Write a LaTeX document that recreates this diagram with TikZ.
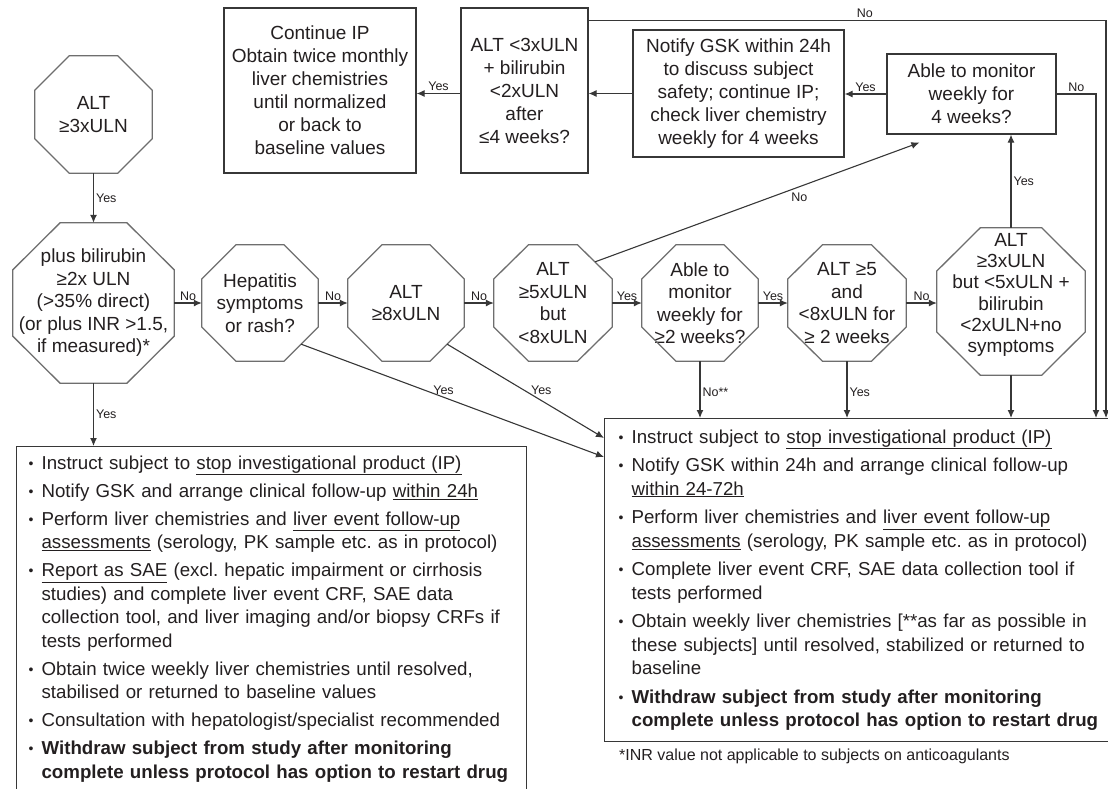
\documentclass[tikz,border=0pt]{standalone}
\usepackage{fontspec}
\setmainfont{Liberation Sans}
\usetikzlibrary{
	positioning,
	arrows.meta,
	calc
}
\definecolor{BoxLine}{RGB}{55,55,55}
\definecolor{OctLine}{RGB}{110,110,110}
\definecolor{InkText}{RGB}{35,31,32}

\newcommand{\itm}{\makebox[13pt][l]{\raisebox{1pt}{\scalebox{0.75}{•}}}}
\newcommand{\ind}{\hspace*{13pt}}
\newcommand{\drawoct}[1]{%
	\draw[octline]
	($(#1.north west)!.293!(#1.north east)$) -- ($(#1.north west)!.707!(#1.north east)$)
	-- ($(#1.north east)!.293!(#1.south east)$) -- ($(#1.north east)!.707!(#1.south east)$)
	-- ($(#1.south west)!.707!(#1.south east)$) -- ($(#1.south west)!.293!(#1.south east)$)
	-- ($(#1.north west)!.707!(#1.south west)$) -- ($(#1.north west)!.293!(#1.south west)$)
	-- cycle;}

\begin{document}
\frenchspacing
\begin{tikzpicture}[
	x=1pt, y=-1pt,
	every node/.style={text=InkText},
	octnode/.style={font=\fontsize{19}{22.5}\selectfont, align=center, inner sep=0pt},
	octline/.style={draw=OctLine, line width=1.3pt, line join=miter},
	decbox/.style={font=\fontsize{19}{23}\selectfont, align=center, draw=BoxLine, line width=1.2pt, inner sep=0pt},
	listbox/.style={draw=BoxLine, line width=1.2pt, align=left, anchor=north west, font=\fontsize{18.7}{23.5}\selectfont},
	arr/.style={draw=BoxLine, line width=1.1pt, -{Latex[length=8pt,width=7pt]}},
	lbl/.style={font=\fontsize{12.5}{14}\selectfont, inner sep=2pt}
	]
	
	\useasboundingbox (0,0) rectangle (1108,789);
	
	% Decision octagons
	\node[octnode, minimum width=117, minimum height=117] (o1) at (93.5,114.5) {ALT\\≥3xULN};
	\node[octnode, minimum width=161, minimum height=160] (o2) at (93.5,303) {plus bilirubin\\≥2x ULN\\(>35\% direct)\\(or plus INR >1.5,\\if measured)*};
	\node[octnode, minimum width=116, minimum height=116] (o3) at (260,303) {Hepatitis\\symptoms\\or rash?};
	\node[octnode, minimum width=116, minimum height=116] (o4) at (406,303) {ALT\\≥8xULN};
	\node[octnode, minimum width=118, minimum height=116] (o5) at (553,303) {ALT\\≥5xULN\\but\\<8xULN};
	\node[octnode, minimum width=116, minimum height=116] (o6) at (700,303) {Able to\\monitor\\weekly for\\≥2 weeks?};
	\node[octnode, minimum width=118, minimum height=116] (o7) at (847,303) {ALT ≥5\\and\\<8xULN for\\≥ 2 weeks};
	\node[octnode, minimum width=148, minimum height=147] (o8) at (1011,301.5) {};
	\node[octnode, font=\fontsize{19}{21.3}\selectfont] (o8txt) at (1011,295) {ALT\\≥3xULN\\but <5xULN +\\bilirubin\\<2xULN+no\\symptoms};
	
	\foreach \n in {o1,o2,o3,o4,o5,o6,o7,o8} {\drawoct{\n}}
	
	% Top row boxes
	\node[decbox, minimum width=192, minimum height=165] (cont) at (320,90.5) {Continue IP\\Obtain twice monthly\\liver chemistries\\until normalized\\or back to\\baseline values};
	\node[decbox, minimum width=127, minimum height=165] (alt3) at (524.5,90.5) {ALT <3xULN\\+ bilirubin\\<2xULN\\after\\≤4 weeks?};
	\node[decbox, minimum width=211, minimum height=127] (gsk) at (738.5,93.5) {Notify GSK within 24h\\to discuss subject\\safety; continue IP;\\check liver chemistry\\weekly for 4 weeks};
	\node[decbox, minimum width=169, minimum height=80] (able) at (971.5,94) {Able to monitor\\weekly for\\4 weeks?};
	
	% Action boxes
	\node[listbox, text width=486, inner xsep=12, inner ysep=9] (lbox) at (16,446) {%
		\itm Instruct subject to \underline{stop investigational product (IP)}\\[4.5pt]
		\itm Notify GSK and arrange clinical follow-up \underline{within 24h}\\[4.5pt]
		\itm Perform liver chemistries and \underline{liver event follow-up}\\
		\ind\underline{assessments} (serology, PK sample etc. as in protocol)\\[4.5pt]
		\itm\underline{Report as SAE} (excl. hepatic impairment or cirrhosis\\
		\ind studies) and complete liver event CRF, SAE data\\
		\ind collection tool, and liver imaging and/or biopsy CRFs if\\
		\ind tests performed\\[4.5pt]
		\itm Obtain twice weekly liver chemistries until resolved,\\
		\ind stabilised or returned to baseline values\\[4.5pt]
		\itm Consultation with hepatologist/specialist recommended\\[4.5pt]
		\itm\textbf{Withdraw subject from study after monitoring}\\
		\ind\textbf{complete unless protocol has option to restart drug}};
	
	\node[listbox, text width=492, inner xsep=14, inner ysep=11] (rbox) at (604,418) {%
		\itm Instruct subject to \underline{stop investigational product (IP)}\\[5pt]
		\itm Notify GSK within 24h and arrange clinical follow-up\\
		\ind\underline{within 24-72h}\\[5pt]
		\itm Perform liver chemistries and \underline{liver event follow-up}\\
		\ind\underline{assessments} (serology, PK sample etc. as in protocol)\\[5pt]
		\itm Complete liver event CRF, SAE data collection tool if\\
		\ind tests performed\\[5pt]
		\itm Obtain weekly liver chemistries [**as far as possible in\\
		\ind these subjects] until resolved, stabilized or returned to\\
		\ind baseline\\[5pt]
		\itm\textbf{Withdraw subject from study after monitoring}\\
		\ind\textbf{complete unless protocol has option to restart drug}};
	
	\node[font=\fontsize{16}{18}\selectfont, anchor=west, inner sep=0pt] (note) at ($(rbox.south west)+(15,14)$) {*INR value not applicable to subjects on anticoagulants};
	
	% Connections along the row
	\draw[arr] (o1) -- node[lbl, right]{Yes} (o2);
	\draw[arr] (o2) -- node[lbl, above]{No} (o3);
	\draw[arr] (o3) -- node[lbl, above]{No} (o4);
	\draw[arr] (o4) -- node[lbl, above]{No} (o5);
	\draw[arr] (o5) -- node[lbl, above]{Yes} (o6);
	\draw[arr] (o6) -- node[lbl, above]{Yes} (o7);
	\draw[arr] (o7) -- node[lbl, above]{No} (o7 -| o8.west);
	
	% Down to the action boxes
	\draw[arr] (o2) -- node[lbl, right]{Yes} (o2 |- lbox.north);
	\draw[arr] (o6) -- node[lbl, right, pos=.55]{No**} (o6 |- rbox.north);
	\draw[arr] (o7) -- node[lbl, right, pos=.55]{Yes} (o7 |- rbox.north);
	\draw[arr] (o8) -- (o8 |- rbox.north);
	
	\coordinate (o3cut) at ($(o3.south east)+(-17,-17)$);
	\coordinate (o4cut) at ($(o4.south east)+(-17,-17)$);
	\coordinate (o5cut) at ($(o5.north east)+(-17,17)$);
	\draw[arr] (o3cut) -- node[lbl, pos=.47, above]{Yes} ($(rbox.north west)+(0,39)$);
	\draw[arr] (o4cut) -- node[lbl, pos=.6, above=3pt]{Yes} ($(rbox.north west)+(0,20)$);
	
	% Up to the weekly monitoring question
	\draw[arr] (o5cut) -- node[lbl, pos=.63, below=4pt]{No} ($(able.south west)+(33,8)$);
	\draw[arr] (o8) -- node[lbl, right]{Yes} (o8 |- able.south);
	
	% Top row
	\draw[arr] (able.west) -- node[lbl, above]{Yes} (able.west -| gsk.east);
	\draw[arr] (gsk.west) -- (gsk.west -| alt3.east);
	\draw[arr] (gsk.west -| alt3.west) -- node[lbl, above]{Yes} (gsk.west -| cont.east);
	
	% Right hand returns
	\draw[arr] (able.east) -| node[lbl, pos=.25, above]{No} ($(rbox.north west)+(492,0)$);
	\draw[arr] ($(alt3.north east)+(0,13)$) -| node[lbl, pos=.267, above]{No} ($(rbox.north west)+(502,0)$);
	
\end{tikzpicture}
\end{document}
